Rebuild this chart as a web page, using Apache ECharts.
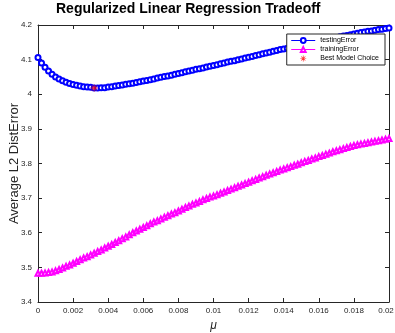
<!DOCTYPE html>
<html>
<head>
<meta charset="utf-8">
<script src="https://cdn.jsdelivr.net/npm/echarts@6/dist/echarts.min.js"></script>
<style>html,body{margin:0;padding:0;background:#fff}#c{width:395px;height:333px}</style>
</head>
<body>
<div id="c"></div>
<script>
var titleText = 'Regularized Linear Regression Tradeoff';
var xName = 'μ';
var yName = 'Average L2 DistError';
var seriesNames = ['testingError', 'trainingError', 'Best Model Choice'];

var mu = [0,0.0002,0.0004,0.0006,0.0008,0.001,0.0012,0.0014,0.0016,0.0018,
0.002,0.0022,0.0024,0.0026,0.0028,0.003,0.0032,0.0034,0.0036,0.0038,
0.004,0.0042,0.0044,0.0046,0.0048,0.005,0.0052,0.0054,0.0056,0.0058,
0.006,0.0062,0.0064,0.0066,0.0068,0.007,0.0072,0.0074,0.0076,0.0078,
0.008,0.0082,0.0084,0.0086,0.0088,0.009,0.0092,0.0094,0.0096,0.0098,
0.01,0.0102,0.0104,0.0106,0.0108,0.011,0.0112,0.0114,0.0116,0.0118,
0.012,0.0122,0.0124,0.0126,0.0128,0.013,0.0132,0.0134,0.0136,0.0138,
0.014,0.0142,0.0144,0.0146,0.0148,0.015,0.0152,0.0154,0.0156,0.0158,
0.016,0.0162,0.0164,0.0166,0.0168,0.017,0.0172,0.0174,0.0176,0.0178,
0.018,0.0182,0.0184,0.0186,0.0188,0.019,0.0192,0.0194,0.0196,0.0198,0.02];

var testingError = [4.106,4.090,4.078,4.067,4.058,4.050,4.044,4.039,4.035,4.031,
4.028,4.026,4.024,4.022,4.021,4.020,4.018,4.018,4.019,4.019,
4.021,4.022,4.024,4.025,4.027,4.029,4.030,4.032,4.034,4.036,
4.038,4.040,4.042,4.044,4.047,4.049,4.051,4.053,4.055,4.058,
4.060,4.062,4.065,4.067,4.069,4.072,4.074,4.076,4.079,4.081,
4.083,4.085,4.088,4.090,4.093,4.095,4.097,4.100,4.102,4.105,
4.107,4.109,4.112,4.114,4.117,4.119,4.121,4.124,4.126,4.129,
4.131,4.133,4.135,4.138,4.140,4.142,4.144,4.146,4.149,4.151,
4.153,4.155,4.157,4.159,4.161,4.163,4.166,4.168,4.170,4.172,
4.174,4.176,4.178,4.180,4.182,4.183,4.185,4.187,4.188,4.190,4.191];

var trainingError = [3.483,3.483,3.484,3.485,3.487,3.490,3.494,3.498,3.503,3.507,
3.512,3.517,3.522,3.527,3.531,3.536,3.541,3.546,3.550,3.556,
3.561,3.566,3.572,3.577,3.583,3.588,3.594,3.600,3.605,3.610,
3.615,3.620,3.626,3.631,3.635,3.640,3.645,3.649,3.654,3.658,
3.663,3.668,3.673,3.677,3.682,3.686,3.690,3.695,3.699,3.703,
3.706,3.710,3.714,3.718,3.722,3.726,3.730,3.734,3.738,3.742,
3.746,3.750,3.754,3.758,3.762,3.766,3.770,3.773,3.777,3.781,
3.784,3.788,3.791,3.795,3.798,3.802,3.806,3.809,3.813,3.816,
3.820,3.823,3.827,3.830,3.834,3.837,3.840,3.843,3.846,3.849,
3.852,3.854,3.856,3.858,3.860,3.862,3.864,3.866,3.868,3.870,3.872];

var bestMu = [0.0032];
var bestError = [4.018];

function pairs(xs, ys) { var out = []; for (var i = 0; i < ys.length; i++) out.push([xs[i], ys[i]]); return out; }

var axisColor = '#262626';
var star = 'path://M-5,-0.6L5,-0.6L5,0.6L-5,0.6Z M-0.6,-5L0.6,-5L0.6,5L-0.6,5Z M-3.9,-3.1L-3.1,-3.9L3.9,3.1L3.1,3.9Z M-3.9,3.1L3.1,-3.9L3.9,-3.1L-3.1,3.9Z';

var chart = echarts.init(document.getElementById('c'), null, {renderer: 'canvas'});
var tick = {show: true, inside: true, length: 4, lineStyle: {color: axisColor, width: 1}};
var line = {show: true, onZero: false, lineStyle: {color: axisColor, width: 1}};
var xMax = 0.02;
chart.setOption({
  animation: false,
  backgroundColor: '#fff',
  textStyle: {fontFamily: 'Liberation Sans, Arial, sans-serif'},
  title: {
    text: titleText, left: 56, top: 2, padding: 0,
    textStyle: {fontSize: 14, fontWeight: 'bold', color: '#000', fontFamily: 'Liberation Sans, Arial, sans-serif'}
  },
  grid: {left: 38, right: 6, top: 25, bottom: 31, containLabel: false, outerBoundsMode: 'none'},
  legend: {
    orient: 'vertical', right: 10, top: 34,
    backgroundColor: '#fff', borderColor: axisColor, borderWidth: 1,
    padding: [3, 6, 3, 4], itemGap: 2, itemWidth: 24, itemHeight: 6,
    lineStyle: {width: 1},
    itemStyle: {borderWidth: 1},
    textStyle: {fontSize: 7, color: '#000'},
    data: seriesNames
  },
  xAxis: [{
    type: 'value', min: 0, max: xMax, interval: 0.002, position: 'bottom',
    axisLine: line, axisTick: tick, splitLine: {show: false},
    axisLabel: {
      fontSize: 8, color: axisColor, margin: 5,
      formatter: function (v) {
        var s = String(parseFloat(v.toPrecision(6)));
        return Math.abs(v - xMax) < 1e-9 ? '{r|' + s + '}' : s;
      },
      rich: {r: {fontSize: 8, color: axisColor, padding: [0, 6, 0, 0]}}
    },
    name: xName, nameLocation: 'middle', nameGap: 15,
    nameTextStyle: {fontSize: 12, fontStyle: 'italic', color: axisColor}
  }, {
    type: 'value', min: 0, max: xMax, interval: 0.002, position: 'top',
    axisLine: line, axisTick: tick, splitLine: {show: false}, axisLabel: {show: false}
  }],
  yAxis: [{
    type: 'value', min: 3.4, max: 4.2, interval: 0.1, position: 'left',
    axisLine: line, axisTick: tick, splitLine: {show: false},
    axisLabel: {fontSize: 8, color: axisColor, margin: 6},
    name: yName, nameLocation: 'middle', nameGap: 17, nameMoveOverlap: false,
    nameTextStyle: {fontSize: 13, color: axisColor}
  }, {
    type: 'value', min: 3.4, max: 4.2, interval: 0.1, position: 'right',
    axisLine: line, axisTick: tick, splitLine: {show: false}, axisLabel: {show: false}
  }],
  series: [{
    name: seriesNames[0], type: 'line', data: pairs(mu, testingError),
    symbol: 'emptyCircle', symbolSize: 5, showAllSymbol: true,
    lineStyle: {color: '#0000ff', width: 0.8},
    itemStyle: {color: '#0000ff', borderColor: '#0000ff', borderWidth: 0.8}
  }, {
    name: seriesNames[1], type: 'line', data: pairs(mu, trainingError),
    symbol: 'emptyTriangle', symbolSize: 5, showAllSymbol: true,
    lineStyle: {color: '#ff00ff', width: 0.8},
    itemStyle: {color: '#ff00ff', borderColor: '#ff00ff', borderWidth: 0.8}
  }, {
    name: seriesNames[2], type: 'scatter', data: pairs(bestMu, bestError),
    symbol: star, symbolSize: 7, z: 5,
    itemStyle: {color: '#ff0000'}
  }]
});
</script>
</body>
</html>
